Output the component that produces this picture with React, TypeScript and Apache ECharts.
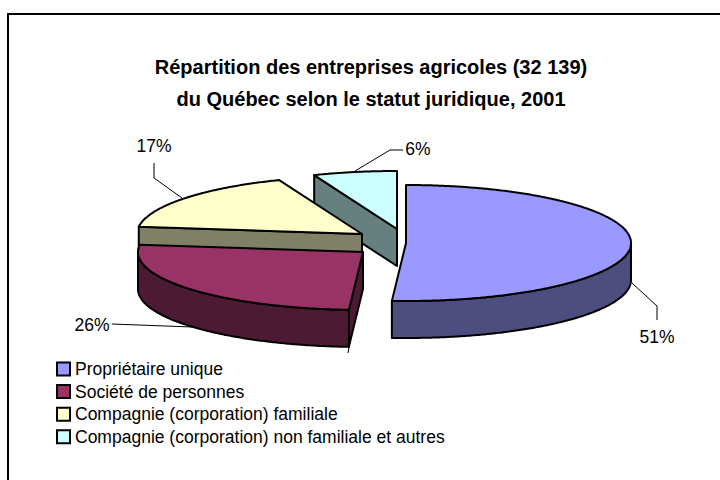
import React, { useEffect, useRef } from "react";
import * as echarts from "echarts";

const titleLines = ["Répartition des entreprises agricoles (32 139)", "du Québec selon le statut juridique, 2001"];
const categories = ["Propriétaire unique", "Société de personnes", "Compagnie (corporation) familiale", "Compagnie (corporation) non familiale et autres"];
const shares = [51, 26, 17, 6];
const topColors = ["#9999FF", "#993366", "#FFFFCC", "#CCFFFF"];
const sideColors = ["#4D4D80", "#4D1A33", "#808066", "#668080"];
const sliceCentres = [[406, 243], [363, 252], [362, 234], [397, 229]];
const leaderLines = [
  [[632, 283], [657, 306], [657, 320]],
  [[112, 324], [192, 327]],
  [[154, 163], [154, 178], [182, 198]],
  [[355, 171], [390, 150], [403, 150]],
];
const labelPositions = [[657, 337], [92, 325], [154, 146], [418, 149]];
const drawOrder = [3, 4, 2, 1];

const RX = 225;
const RY = 58;
const DEPTH = 37;
const total = shares.reduce((a, b) => a + b, 0);

function sliceAngles(i: number) {
  const before = shares.slice(0, i).reduce((a, b) => a + b, 0);
  return [(before / total) * 360, ((before + shares[i]) / total) * 360];
}

function renderSlice(i: number) {
  return () => {
    const [cx, cy] = sliceCentres[i];
    const [a0, a1] = sliceAngles(i);
    const at = (deg: number, dz = 0) => {
      const r = (deg * Math.PI) / 180;
      return [cx + RX * Math.sin(r), cy - RY * Math.cos(r) + dz];
    };
    const arc = (from: number, to: number, dz = 0) => {
      const pts: number[][] = [];
      const n = Math.max(2, Math.ceil((to - from) * 2));
      for (let k = 0; k <= n; k++) pts.push(at(from + ((to - from) * k) / n, dz));
      return pts;
    };
    const stroke = { stroke: "#000", lineWidth: 2, lineJoin: "round" };
    const children: any[] = [];
    const face = (points: number[][], fill: string) =>
      children.push({ type: "polygon", shape: { points }, style: { fill, ...stroke } });
    const r0 = (a0 * Math.PI) / 180;
    if (Math.sin(r0) < -1e-6) {
      face([[cx, cy], at(a0), at(a0, DEPTH), [cx, cy + DEPTH]], sideColors[i]);
    }
    const f0 = Math.max(a0, 90);
    const f1 = Math.min(a1, 270);
    if (f1 > f0) {
      face([...arc(f0, f1), ...arc(f0, f1, DEPTH).reverse()], sideColors[i]);
    }
    face([[cx, cy], ...arc(a0, a1)], topColors[i]);
    children.push({
      type: "polyline",
      shape: { points: leaderLines[i] },
      style: { fill: "none", stroke: "#000", lineWidth: 1 },
    });
    children.push({
      type: "text",
      style: {
        x: labelPositions[i][0],
        y: labelPositions[i][1],
        text: `${shares[i]}%`,
        fill: "#000",
        font: '17.5px "Liberation Sans"',
        align: "center",
        verticalAlign: "middle",
      },
    });
    return { type: "group", children };
  };
}

export default function App() {
  const ref = useRef<HTMLDivElement>(null);
  useEffect(() => {
    const chart = echarts.init(ref.current!, null, { renderer: "svg" });
    chart.setOption({
      animation: false,
      backgroundColor: "#fff",
      title: {
        text: titleLines.join("\n"),
        left: 371,
        top: 51,
        padding: 0,
        textAlign: "center",
        textStyle: { fontFamily: "Liberation Sans", fontWeight: "bold", fontSize: 20, lineHeight: 32, color: "#000" },
      },
      legend: {
        orient: "vertical",
        left: 56,
        top: 360,
        itemWidth: 13,
        itemHeight: 13,
        itemGap: 4.6,
        icon: "rect",
        data: categories,
        selectedMode: false,
        padding: 0,
        itemStyle: { borderColor: "#000", borderWidth: 2 },
        textStyle: { fontFamily: "Liberation Sans", fontSize: 17.5, lineHeight: 18, color: "#000" },
      },
      graphic: [
        { type: "polyline", silent: true, z: -1, shape: { points: [[8, 480], [8, 14], [720, 14]] }, style: { fill: "none", stroke: "#000", lineWidth: 2 } },
        { type: "line", silent: true, shape: { x1: 349, y1: 347, x2: 348, y2: 353 }, style: { stroke: "#000", lineWidth: 1 } },
      ],
      series: categories.map((name, i) => ({
        type: "custom",
        name,
        coordinateSystem: "none",
        z: drawOrder[i],
        itemStyle: { color: topColors[i] },
        data: [shares[i]],
        renderItem: renderSlice(i),
      })),
    });
    return () => chart.dispose();
  }, []);
  return <div ref={ref} style={{ position: "absolute", left: 0, top: 0, width: 720, height: 480 }} />;
}
